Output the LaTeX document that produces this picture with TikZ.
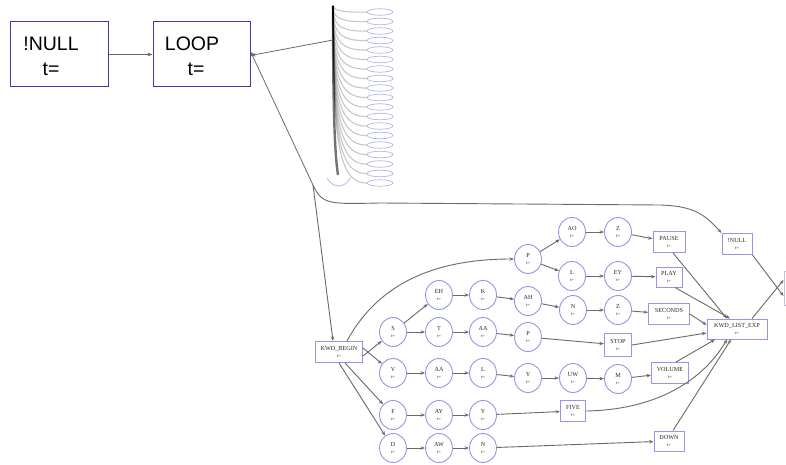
\documentclass[tikz,border=0pt]{standalone}
\usepackage{fontspec}
\setmainfont{Liberation Serif}
\newfontfamily\arialfont{Liberation Sans}
\usetikzlibrary{arrows.meta,shapes.geometric}
\definecolor{bigedge}{HTML}{3A3AB0}
\definecolor{stcol}{HTML}{9696E8}
\definecolor{edgecol}{HTML}{6A6A6A}
\definecolor{txtcol}{HTML}{2A2A2A}
\newcommand{\twoline}[1]{#1\\{\fontsize{4.4}{5}\selectfont t=}}
\tikzset{
  bigbox/.style={draw=bigedge, line width=1pt, rectangle, inner sep=0pt},
  bigtxt/.style={font=\arialfont\fontsize{19.5}{20}\selectfont, inner sep=0pt, text=black},
  bigarrow/.style={draw=edgecol, line width=0.8pt, -{Stealth[length=5pt,width=3.6pt]}},
  st/.style={ellipse, draw=stcol, line width=0.9pt, minimum width=27pt, minimum height=29pt,
    inner sep=0pt, align=center, text=txtcol, font=\fontsize{6.2}{7}\selectfont},
  kw/.style={rectangle, draw=stcol, line width=1pt, minimum height=21pt, inner sep=1pt,
    align=center, text=txtcol, font=\fontsize{6.2}{7}\selectfont},
  ar/.style={draw=edgecol, line width=0.9pt, -{Stealth[length=4.5pt,width=3.4pt]}},
  bun/.style={ellipse, draw=stcol!70, line width=0.7pt, minimum width=26pt, minimum height=6.5pt, inner sep=0pt},
  bunedge/.style={draw=black, opacity=0.22, line width=1.1pt},
}
\begin{document}
\begin{tikzpicture}[x=1pt,y=-1pt]
\useasboundingbox[fill=white] (0,0) rectangle (786,465);

% top-level boxes
\node[bigbox, minimum width=98pt, minimum height=65pt] (nullbig) at (59,54.5) {};
\node[bigtxt] (nulltxt) at (51,44) {!NULL};
\node[bigtxt] (nullt) at (51,69) {t=};
\node[bigbox, minimum width=97pt, minimum height=65pt] (loop) at (201.5,54.5) {};
\node[bigtxt] (looptxt) at (192,44) {LOOP};
\node[bigtxt] (loopt) at (196,69) {t=};
\draw[bigarrow] (nullbig.east) -- (loop.west);

% fan of states stacked on the right of the hub
\coordinate (hub) at (333,6);
\foreach \i in {0,...,18}{
  \pgfmathsetmacro{\yy}{12+9.5*\i}
  \node[bun] (b\i) at (380,\yy) {};
  \draw[bunedge] (hub) .. controls (333,{\yy*0.7}) and (336,\yy+1) .. (b\i.west);
}
\draw[draw=black, opacity=0.55, line width=2.4pt] (hub) .. controls (333,90) and (334,150) .. (338,175);
\draw[stcol!70, line width=0.8pt] (327,178) .. controls (332,188) and (345,189) .. (350,178);

\coordinate (bandpt) at (333,40);
\coordinate (jn) at (313,185);
\draw[bigarrow] (bandpt) -- ([yshift=-1pt]loop.east);
\draw[bigarrow] (jn) -- ([yshift=3pt]loop.east);

% keyword graph
\node[kw, minimum width=47pt] (kb) at (339,352) {\twoline{KWD\_BEGIN}};
\node[st] (s) at (393,332) {\twoline{S}};
\node[st] (v) at (393,373) {\twoline{V}};
\node[st] (f) at (393,415) {\twoline{F}};
\node[st] (d) at (393,448) {\twoline{D}};
\node[st] (eh) at (439,295) {\twoline{EH}};
\node[st] (t) at (439,332) {\twoline{T}};
\node[st] (aa2) at (439,373) {\twoline{AA}};
\node[st] (ay) at (439,415) {\twoline{AY}};
\node[st] (aw) at (439,448) {\twoline{AW}};
\node[st] (k) at (483,295) {\twoline{K}};
\node[st] (aa1) at (483,332) {\twoline{AA}};
\node[st] (l2) at (483,373) {\twoline{L}};
\node[st] (y4) at (483,415) {\twoline{Y}};
\node[st] (n5) at (483,448) {\twoline{N}};
\node[st] (ah) at (528,301) {\twoline{AH}};
\node[st] (p2) at (528,337) {\twoline{P}};
\node[st] (y3) at (528,378) {\twoline{Y}};
\node[st] (pt) at (528,259) {\twoline{P}};
\node[st] (ao) at (572,232) {\twoline{AO}};
\node[st] (lt) at (572,276) {\twoline{L}};
\node[st] (n1) at (573,310) {\twoline{N}};
\node[st] (uw) at (573,378) {\twoline{UW}};
\node[st] (zt) at (618,232) {\twoline{Z}};
\node[st] (ey) at (618,276) {\twoline{EY}};
\node[st] (z1) at (618,310) {\twoline{Z}};
\node[st] (m) at (618,379) {\twoline{M}};
\node[kw, minimum width=32pt] (pause) at (669,242) {\twoline{PAUSE}};
\node[kw, minimum width=26pt, minimum height=20pt] (play) at (669,277) {\twoline{PLAY}};
\node[kw, minimum width=41pt] (seconds) at (669,314) {\twoline{SECONDS}};
\node[kw, minimum width=27pt, minimum height=23pt] (stop) at (618,345) {\twoline{STOP}};
\node[kw, minimum width=37pt] (volume) at (670,373) {\twoline{VOLUME}};
\node[kw, minimum width=25pt] (five) at (573,411) {\twoline{FIVE}};
\node[kw, minimum width=30pt, minimum height=20pt] (down) at (669,441) {\twoline{DOWN}};
\node[kw, minimum width=60pt, minimum height=20pt] (kle) at (737,329) {\twoline{KWD\_LIST\_EXP}};
\node[kw, minimum width=30pt] (nsm) at (737,244) {\twoline{!NULL}};
\node[kw, draw=stcol!60, minimum width=20pt, minimum height=34pt] (rt) at (794,288) {};

% hub connections into the keyword graph
\draw[ar] (jn) -- ([xshift=-6pt]kb.north);
\draw[ar] (jn) .. controls (322,205) and (330,204) .. (380,203)
  -- (660,205) .. controls (695,206) and (705,215) .. (nsm.north west);

% branches from KWD_BEGIN
\draw[ar] ([xshift=8pt]kb.north) .. controls (380,280) and (440,259) .. (pt.west);
\draw[ar] ([yshift=-4pt]kb.east) -- (s);
\draw[ar] ([yshift=4pt]kb.east) -- (v);
\draw[ar] ([xshift=6pt]kb.south) -- (f);
\draw[ar] ([xshift=0pt]kb.south) -- (d);

% word chains
\draw[ar] (s) -- (eh);
\draw[ar] (s) -- (t);
\draw[ar] (eh) -- (k);
\draw[ar] (k) -- (ah);
\draw[ar] (ah) -- (n1);
\draw[ar] (n1) -- (z1);
\draw[ar] (z1) -- (seconds);
\draw[ar] (t) -- (aa1);
\draw[ar] (aa1) -- (p2);
\draw[ar] (p2) -- (stop);
\draw[ar] (pt) -- (ao);
\draw[ar] (pt) -- (lt);
\draw[ar] (ao) -- (zt);
\draw[ar] (zt) -- (pause);
\draw[ar] (lt) -- (ey);
\draw[ar] (ey) -- (play);
\draw[ar] (v) -- (aa2);
\draw[ar] (aa2) -- (l2);
\draw[ar] (l2) -- (y3);
\draw[ar] (y3) -- (uw);
\draw[ar] (uw) -- (m);
\draw[ar] (m) -- (volume);
\draw[ar] (f) -- (ay);
\draw[ar] (ay) -- (y4);
\draw[ar] (y4) -- (five);
\draw[ar] (d) -- (aw);
\draw[ar] (aw) -- (n5);
\draw[ar] (n5) -- (down);

% keywords into the list node
\draw[ar] ([xshift=4pt]pause.south) -- ([xshift=-10pt]kle.north);
\draw[ar] ([xshift=6pt]play.south) -- ([xshift=-7pt]kle.north);
\draw[ar] (seconds.east) -- ([yshift=4pt]kle.west);
\draw[ar] (stop.east) -- ([yshift=-4pt]kle.west);
\draw[ar] ([xshift=6pt]volume.north) -- ([xshift=-22pt]kle.south);
\draw[ar] (five.east) .. controls (650,410) and (700,385) .. ([xshift=-10pt]kle.south);
\draw[ar] ([xshift=4pt]down.north) -- ([xshift=-6pt]kle.south);
\draw[ar] ([xshift=15pt]kle.north) -- ([yshift=8pt]rt.west);
\draw[ar] (nsm.south east) -- ([yshift=-8pt]rt.west);
\end{tikzpicture}
\end{document}
